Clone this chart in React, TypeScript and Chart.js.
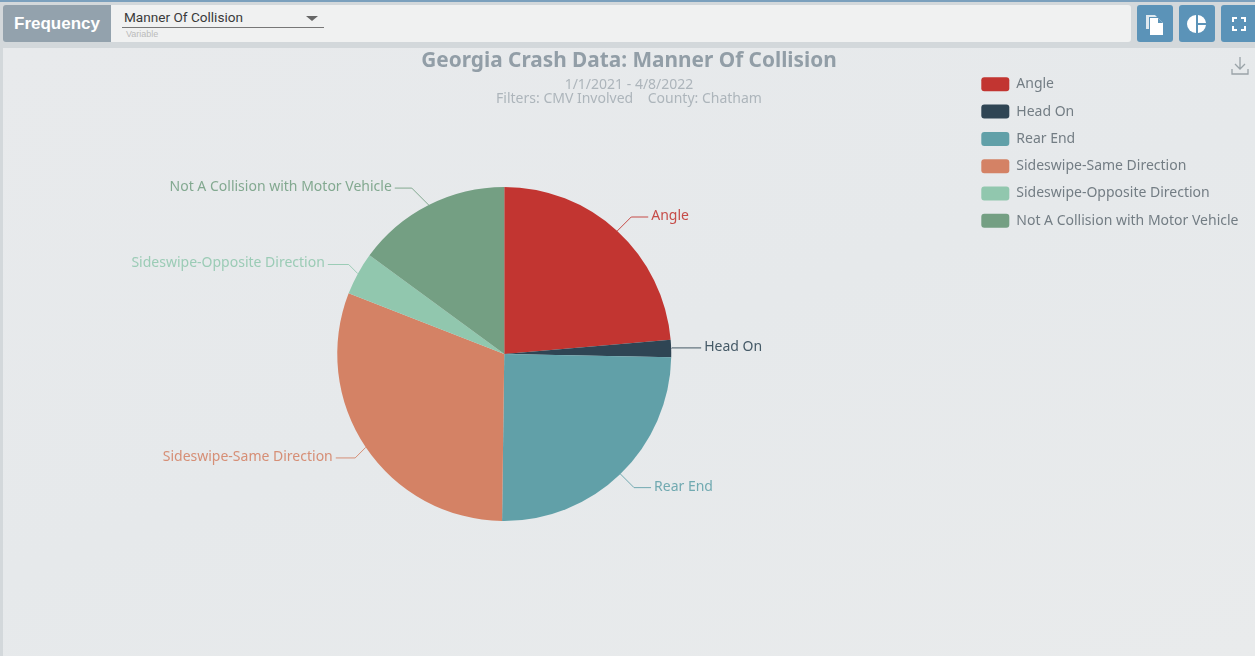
import React, { useEffect, useRef } from "react";
import { Chart, registerables } from "chart.js";

Chart.register(...registerables);

const categories = [
  "Angle",
  "Head On",
  "Rear End",
  "Sideswipe-Same Direction",
  "Sideswipe-Opposite Direction",
  "Not A Collision with Motor Vehicle",
];
const crashCounts = [57, 4, 60, 74, 10, 36];
const sliceColors = ["#c23531", "#2f4554", "#61a0a8", "#d48265", "#91c7ae", "#749f83"];
const chartTitle = "Georgia Crash Data: Manner Of Collision";
const chartSubtitle = ["1/1/2021 - 4/8/2022", "Filters: CMV Involved    County: Chatham"];

const FONT = '"Noto Sans", "Open Sans", sans-serif';

const leaderPlugin = {
  id: "leaders",
  afterLayout(chart: any) {
    const lg = chart.legend;
    if (lg) {
      const w = lg.right - lg.left;
      lg.left = 968;
      lg.right = 968 + w;
      lg.top = 64;
    }
    chart.boxes.forEach((b: any) => {
      const t = b.options && b.options.text;
      if (t === chartTitle || (t && t[0] === chartSubtitle[0])) {
        b.left = 3;
        b.right = 1255;
      }
    });
  },
  afterDatasetsDraw(chart: any) {
    const ctx = chart.ctx;
    const arcs = chart.getDatasetMeta(0).data;
    ctx.save();
    ctx.font = `14px ${FONT}`;
    ctx.textBaseline = "middle";
    ctx.lineWidth = 1;
    ctx.globalAlpha = 0.88;
    arcs.forEach((arc: any, i: number) => {
      const { x, y, startAngle, endAngle, outerRadius } = arc.getProps(
        ["x", "y", "startAngle", "endAngle", "outerRadius"],
        true
      );
      const mid = (startAngle + endAngle) / 2;
      const cos = Math.cos(mid);
      const sin = Math.sin(mid);
      const ex = x + outerRadius * cos;
      const ey = y + outerRadius * sin;
      const ky = y + (outerRadius + 19) * sin;
      const dy = Math.abs(ky - ey);
      const dir = cos >= 0 ? 1 : -1;
      const kx = ex + dir * dy;
      const tx = ex + dir * Math.max(dy + 17, 30);
      ctx.strokeStyle = sliceColors[i];
      ctx.fillStyle = sliceColors[i];
      ctx.beginPath();
      ctx.moveTo(ex, ey);
      ctx.lineTo(kx, ky);
      ctx.lineTo(tx, ky);
      ctx.stroke();
      ctx.textAlign = dir > 0 ? "left" : "right";
      ctx.fillText(categories[i], tx + dir * 3, ky - 1);
    });
    ctx.restore();
  },
};

function PieIcon() {
  return (
    <svg width="20" height="20" viewBox="0 0 20 20">
      <path d="M9 1a9 9 0 1 0 0 18z" fill="#fff" />
      <path d="M11 1a9 9 0 0 1 8 8h-8z" fill="#fff" />
      <path d="M11 11h8a9 9 0 0 1-8 8z" fill="#fff" />
    </svg>
  );
}

function CopyIcon() {
  return (
    <svg width="22" height="22" viewBox="0 0 22 22">
      <path d="M2 2h9l2 2H5v12H2z" fill="#dfe9ef" />
      <path d="M6 5h8l5 5v12H6z" fill="#fff" />
      <path d="M14 5v5h5z" fill="#5b93b8" />
    </svg>
  );
}

function ExpandIcon() {
  return (
    <svg width="14" height="14" viewBox="0 0 14 14" fill="none" stroke="#fff" strokeWidth="2">
      <path d="M1 5V1h4M9 1h4v4M13 9v4H9M5 13H1V9" />
    </svg>
  );
}

const btn = (left: number, width: number): React.CSSProperties => ({
  position: "absolute",
  left,
  top: 5,
  width,
  height: 37,
  background: "#5b93b8",
  borderRadius: 3,
  display: "flex",
  alignItems: "center",
  justifyContent: "center",
});

export default function App() {
  const ref = useRef<HTMLCanvasElement>(null);
  useEffect(() => {
    document.body.style.margin = "0";
    document.body.style.overflow = "hidden";
    const chart = new Chart(ref.current!, {
      type: "pie",
      data: {
        labels: categories,
        datasets: [
          {
            data: crashCounts,
            backgroundColor: sliceColors,
            borderWidth: 0,
            radius: 167,
          } as any,
        ],
      },
      options: {
        responsive: false,
        animation: false,
        layout: { padding: { top: 49, left: 34, bottom: 54, right: 0 } },
        plugins: {
          title: {
            display: true,
            text: chartTitle,
            color: "#929ea7",
            font: { family: FONT, size: 20.8, weight: "bold", lineHeight: 1.2 },
            padding: { top: 0, bottom: 4 },
          },
          subtitle: {
            display: true,
            text: chartSubtitle,
            color: "#adb5bb",
            font: { family: FONT, size: 14, lineHeight: 1 },
            padding: { top: 0, bottom: 0 },
          },
          legend: {
            display: true,
            position: "right",
            align: "start",
            labels: {
              boxWidth: 28,
              boxHeight: 14,
              padding: 13.3,
              color: "#737d84",
              useBorderRadius: true,
              borderRadius: 3,
              font: { family: FONT, size: 14 },
            },
          },
          tooltip: { enabled: false },
        },
      },
      plugins: [leaderPlugin],
    } as any);
    return () => chart.destroy();
  }, []);

  return (
    <div
      style={{
        position: "absolute",
        left: 0,
        top: 0,
        width: 1255,
        height: 656,
        overflow: "hidden",
        background: "#d3d8db",
        fontFamily: '"Liberation Sans", Arial, sans-serif',
        filter: "blur(0.7px)",
      }}
    >
      <div style={{ position: "absolute", left: 0, top: 0, width: 1255, height: 2, background: "#7ba0bd" }} />
      <div
        style={{
          position: "absolute",
          left: 3,
          top: 48,
          width: 1252,
          height: 608,
          background: "linear-gradient(160deg, #e8eaec 0%, #e6e9eb 50%, #e9ebec 100%)",
        }}
      />
      <div
        style={{
          position: "absolute",
          left: 3,
          top: 5,
          width: 108,
          height: 37,
          background: "#93a2ad",
          borderRadius: "3px 0 0 3px",
          color: "#fff",
          fontSize: 17,
          fontWeight: 700,
          lineHeight: "37px",
          textAlign: "center",
        }}
      >
        Frequency
      </div>
      <div
        style={{
          position: "absolute",
          left: 111,
          top: 5,
          width: 1020,
          height: 37,
          background: "#f0f1f1",
          borderRadius: "0 3px 3px 0",
        }}
      >
        <div style={{ position: "absolute", left: 13, top: 4, fontSize: 13.6, fontFamily: "Roboto, sans-serif", color: "#3a3a3a" }}>
          Manner Of Collision
        </div>
        <div style={{ position: "absolute", left: 11, top: 22, width: 202, height: 1, background: "#777" }} />
        <div
          style={{
            position: "absolute",
            left: 195,
            top: 11,
            width: 0,
            height: 0,
            borderLeft: "6px solid transparent",
            borderRight: "6px solid transparent",
            borderTop: "5px solid #666",
          }}
        />
        <div style={{ position: "absolute", left: 15, top: 24, fontSize: 9, color: "#bbb" }}>Variable</div>
      </div>
      <div style={btn(1137, 36)}>
        <CopyIcon />
      </div>
      <div style={btn(1179, 36)}>
        <PieIcon />
      </div>
      <div style={btn(1221, 36)}>
        <ExpandIcon />
      </div>
      <canvas ref={ref} width={1255} height={656} style={{ position: "absolute", left: 0, top: 0 }} />
      <svg
        width="20"
        height="20"
        viewBox="0 0 20 20"
        fill="none"
        stroke="#9aa3a8"
        strokeWidth="1.3"
        style={{ position: "absolute", left: 1230, top: 56 }}
      >
        <path d="M10 1v12M5 8l5 5 5-5M2 13v5h16v-5" />
      </svg>
    </div>
  );
}
